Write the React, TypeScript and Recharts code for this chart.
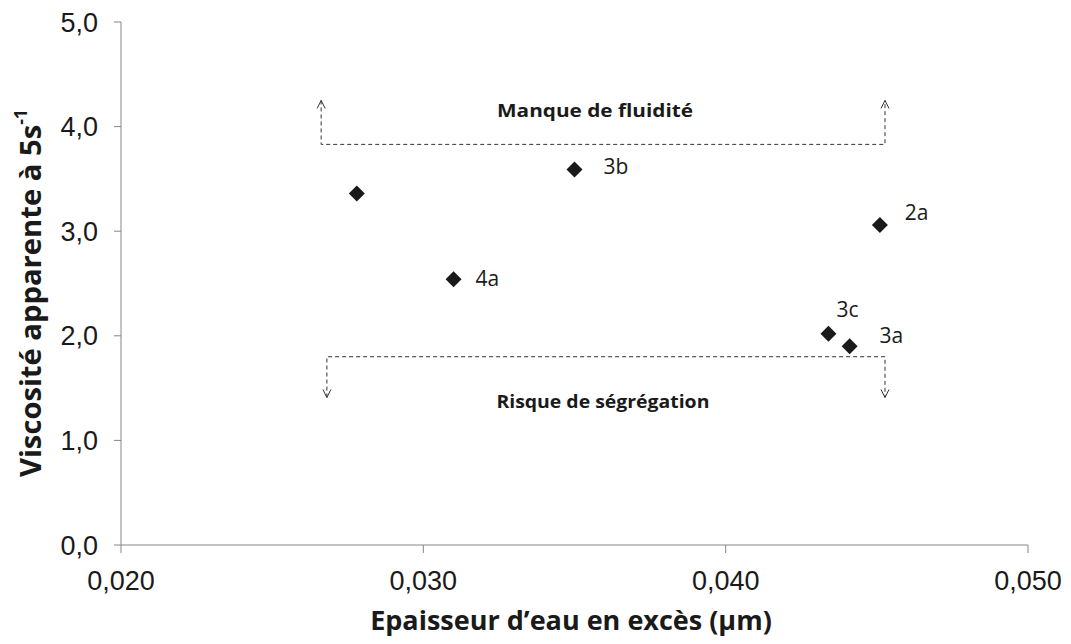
import React from 'react';
import { ScatterChart, Scatter, XAxis, YAxis, ReferenceDot, Label } from 'recharts';

// Data
const pointNames = ['', '3b', '4a', '2a', '3c', '3a'];
const xValues = [0.0278, 0.035, 0.031, 0.0451, 0.0434, 0.0441];
const yValues = [3.36, 3.59, 2.54, 3.06, 2.02, 1.9];

const xTicks = [0.02, 0.03, 0.04, 0.05];
const yTicks = [0, 1, 2, 3, 4, 5];

// Annotation polylines (data coordinates) and arrow directions
const topBracketX = [0.02662, 0.02662, 0.04527, 0.04527];
const topBracketY = [4.25, 3.83, 3.83, 4.25];
const topBracketArrow = ['up', '', '', 'up'];
const bottomBracketX = [0.02681, 0.02681, 0.04527, 0.04527];
const bottomBracketY = [1.41, 1.8, 1.8, 1.41];
const bottomBracketArrow = ['down', '', '', 'down'];

const annotationTexts = ['Manque de fluidité', 'Risque de ségrégation'];
const annotationX = [0.03568, 0.03594];
const annotationY = [4.15, 1.37];

// styles
const labelOffsets: Record<string, [number, number]> = {
  '3b': [29, -3],
  '4a': [22, -1],
  '2a': [25, -13],
  '3c': [8, -25],
  '3a': [30, -11],
};
const annotationWidths = [196, 213];

const points = xValues.map((x, i) => ({ x, y: yValues[i], name: pointNames[i] }));
const topBracket = topBracketX.map((x, i) => ({ x, y: topBracketY[i], arrow: topBracketArrow[i] }));
const bottomBracket = bottomBracketX.map((x, i) => ({ x, y: bottomBracketY[i], arrow: bottomBracketArrow[i] }));

const AXIS_COLOR = '#868686';
const TEXT_COLOR = '#1a1a1a';

const fmtX = (v: number) => v.toFixed(3).replace('.', ',');
const fmtY = (v: number) => v.toFixed(1).replace('.', ',');

const DiamondShape = (props: any) => {
  const { cx, cy, payload } = props;
  const r = 8;
  const off = labelOffsets[payload?.name];
  return (
    <g>
      <polygon
        points={`${cx},${cy - r} ${cx + r},${cy} ${cx},${cy + r} ${cx - r},${cy}`}
        fill={TEXT_COLOR}
      />
      {payload?.name && off ? (
        <text
          x={cx + off[0]}
          y={cy + off[1]}
          dominantBaseline="central"
          fontFamily="'Open Sans', sans-serif"
          fontSize={21}
          fill={TEXT_COLOR}
        >
          {payload.name}
        </text>
      ) : null}
    </g>
  );
};

const ArrowShape = (props: any) => {
  const { cx, cy, payload } = props;
  if (!payload?.arrow) return <g />;
  const dir = payload.arrow === 'up' ? 1 : -1;
  return (
    <polyline
      points={`${cx - 4},${cy + dir * 8} ${cx},${cy} ${cx + 4},${cy + dir * 8}`}
      fill="none"
      stroke="#333"
      strokeWidth={1}
    />
  );
};

const YTitle = () => {
  const cx = 30;
  const cy = 293;
  return (
    <text
      x={cx}
      y={cy}
      transform={`rotate(-90, ${cx}, ${cy})`}
      textAnchor="middle"
      dominantBaseline="central"
      fontFamily="'Open Sans', sans-serif"
      fontWeight="bold"
      fontSize={28}
      textLength={368}
      lengthAdjust="spacingAndGlyphs"
      fill={TEXT_COLOR}
    >
      Viscosité apparente à 5s
      <tspan fontSize={17} dy={-10}>-1</tspan>
    </text>
  );
};

const XTitle = () => {
  return (
    <text
      x={571}
      y={619}
      textAnchor="middle"
      dominantBaseline="central"
      fontFamily="'Open Sans', sans-serif"
      fontWeight="bold"
      fontSize={27}
      fill={TEXT_COLOR}
    >
      Epaisseur d’eau en excès (µm)
    </text>
  );
};

const AnnotationLabel = (text: string, w: number) => (props: any) => {
  const { viewBox } = props;
  const x = viewBox.x + (viewBox.width || 0) / 2;
  const y = viewBox.y + (viewBox.height || 0) / 2;
  return (
    <text
      x={x}
      y={y}
      textAnchor="middle"
      dominantBaseline="central"
      fontFamily="'Open Sans', sans-serif"
      fontWeight="bold"
      fontSize={17}
      textLength={w}
      lengthAdjust="spacingAndGlyphs"
      fill={TEXT_COLOR}
    >
      {text}
    </text>
  );
};

export default function App() {
  return (
    <div style={{ position: 'absolute', left: 0, top: 0, background: '#fff' }}>
      <ScatterChart width={1071} height={644} margin={{ top: 22, right: 43, bottom: 69, left: 0 }}>
        <XAxis
          type="number"
          dataKey="x"
          height={30}
          domain={[0.02, 0.05]}
          ticks={xTicks}
          tickFormatter={fmtX}
          stroke={AXIS_COLOR}
          tickSize={8}
          tickMargin={18}
          tick={{ fill: TEXT_COLOR, fontSize: 27, fontFamily: "'Liberation Sans', Arial, sans-serif" }}
          allowDataOverflow
        >
          <Label content={XTitle} />
        </XAxis>
        <YAxis
          type="number"
          dataKey="y"
          width={121}
          domain={[0, 5]}
          ticks={yTicks}
          tickFormatter={fmtY}
          stroke={AXIS_COLOR}
          tickSize={7}
          tickMargin={16}
          tick={{ fill: TEXT_COLOR, fontSize: 27, fontFamily: "'Liberation Sans', Arial, sans-serif" }}
          allowDataOverflow
        >
          <Label content={YTitle} />
        </YAxis>
        <Scatter
          data={topBracket}
          line={{ stroke: '#333', strokeWidth: 1, strokeDasharray: '4 3' }}
          lineJointType="linear"
          shape={ArrowShape}
          isAnimationActive={false}
        />
        <Scatter
          data={bottomBracket}
          line={{ stroke: '#333', strokeWidth: 1, strokeDasharray: '4 3' }}
          lineJointType="linear"
          shape={ArrowShape}
          isAnimationActive={false}
        />
        <Scatter data={points} shape={DiamondShape} isAnimationActive={false} />
        {annotationTexts.map((t, i) => (
          <ReferenceDot
            key={t}
            x={annotationX[i]}
            y={annotationY[i]}
            r={0}
            fill="none"
            stroke="none"
            label={AnnotationLabel(t, annotationWidths[i])}
          />
        ))}
      </ScatterChart>
    </div>
  );
}
